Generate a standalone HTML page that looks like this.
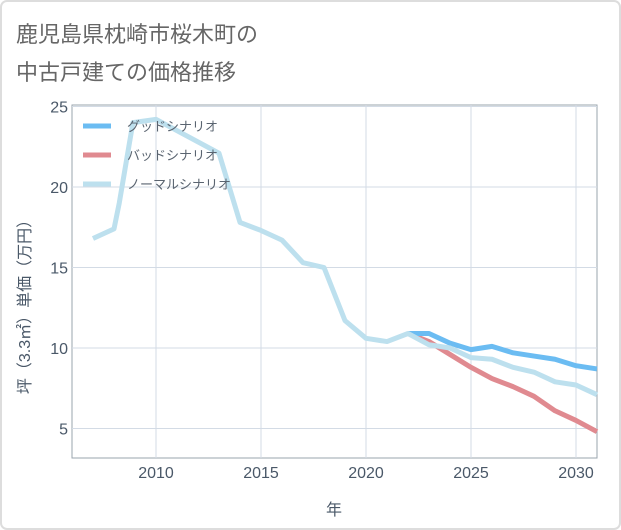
<!DOCTYPE html>
<html><head><meta charset="utf-8"><style>
body{margin:0;background:#fff;}
svg{display:block;font-family:"Liberation Sans","Noto Sans CJK JP",sans-serif;}
</style></head><body>
<svg id="chart" width="621" height="530">
<rect x="1" y="1" width="619" height="528" rx="6" fill="#fff" stroke="#ddd" stroke-width="2"/>
<text x="16" y="42" font-size="22" fill="#666">鹿児島県枕崎市桜木町の</text>
<text x="16" y="80" font-size="22" fill="#666">中古戸建ての価格推移</text>
<g id="grid"></g>
<g id="series"></g>
<g id="legend"></g>
<text x="334" y="515" font-size="16" fill="#4a5868" text-anchor="middle">年</text>
<text transform="translate(30,303) rotate(-90)" font-size="16" fill="#4a5868" text-anchor="middle">坪（3.3㎡）単価（万円）</text>
</svg>
<script>
const xTicks=[2010,2015,2020,2025,2030];
const yTicks=[5,10,15,20,25];
const normalYears=[2007,2008,2008.25,2008.9,2010,2013,2014,2015,2016,2017,2018,2019,2020,2021,2022,2023,2024,2025,2026,2027,2028,2029,2030,2031];
const normalValues=[16.8,17.4,19.0,24.0,24.2,22.1,17.8,17.3,16.7,15.3,15.0,11.7,10.6,10.4,10.9,10.2,10.0,9.4,9.3,8.8,8.5,7.9,7.7,7.1];
const goodYears=[2022,2023,2024,2025,2026,2027,2028,2029,2030,2031];
const goodValues=[10.9,10.9,10.3,9.9,10.1,9.7,9.5,9.3,8.9,8.7];
const badYears=[2022,2023,2024,2025,2026,2027,2028,2029,2030,2031];
const badValues=[10.9,10.4,9.6,8.8,8.1,7.6,7.0,6.1,5.5,4.8];
const NS='http://www.w3.org/2000/svg';
const L=72,R=597,T=105,B=458;
const x=v=>L+(v-2006)/(2031-2006)*(R-L);
const y=v=>348-(v-10)*16.1;
function mk(tag,attrs,parent){const e=document.createElementNS(NS,tag);for(const k in attrs)e.setAttribute(k,attrs[k]);parent.appendChild(e);return e;}
const grid=document.getElementById('grid');
mk('rect',{x:L,y:T,width:R-L,height:B-T,fill:'none',stroke:'#9aa4ae','stroke-width':1},grid);
xTicks.forEach(t=>{
 const l=mk('line',{x1:x(t),x2:x(t),y1:T,y2:B,stroke:'#d3dbe5','stroke-width':1},grid);
 
 const tx=mk('text',{x:x(t),y:478,'font-size':16,fill:'#4a5868','text-anchor':'middle'},grid);tx.textContent=t;
 
});
yTicks.forEach(t=>{
 const l=mk('line',{x1:L,x2:R,y1:y(t),y2:y(t),stroke:'#d3dbe5','stroke-width':1},grid);
 
 const tx=mk('text',{x:L-4,y:y(t)+6,'font-size':16,fill:'#4a5868','text-anchor':'end'},grid);tx.textContent=t;
 
});
const sg=document.getElementById('series');
function line(xs,vs,color,name){
 const p=mk('polyline',{points:xs.map((a,i)=>x(a)+','+y(vs[i])).join(' '),fill:'none',stroke:color,'stroke-width':5,'stroke-linejoin':'round'},sg);
 
}
line(badYears,badValues,'#e08a90','bad-scenario-line');
line(goodYears,goodValues,'#6bbcf2','good-scenario-line');
line(normalYears,normalValues,'#bde0ee','normal-scenario-line');
const lg=document.getElementById('legend');
[['グッドシナリオ','#6bbcf2'],['バッドシナリオ','#e08a90'],['ノーマルシナリオ','#bde0ee']].forEach((d,i)=>{
 const yy=126+i*29;
 const g=mk('g',{},lg);
 
 mk('line',{x1:83,x2:111,y1:yy,y2:yy,stroke:d[1],'stroke-width':5},g);
 const t=mk('text',{x:127,y:yy+5,'font-size':13,fill:'#5a6470'},g);t.textContent=d[0];
});
</script>
</body></html>
